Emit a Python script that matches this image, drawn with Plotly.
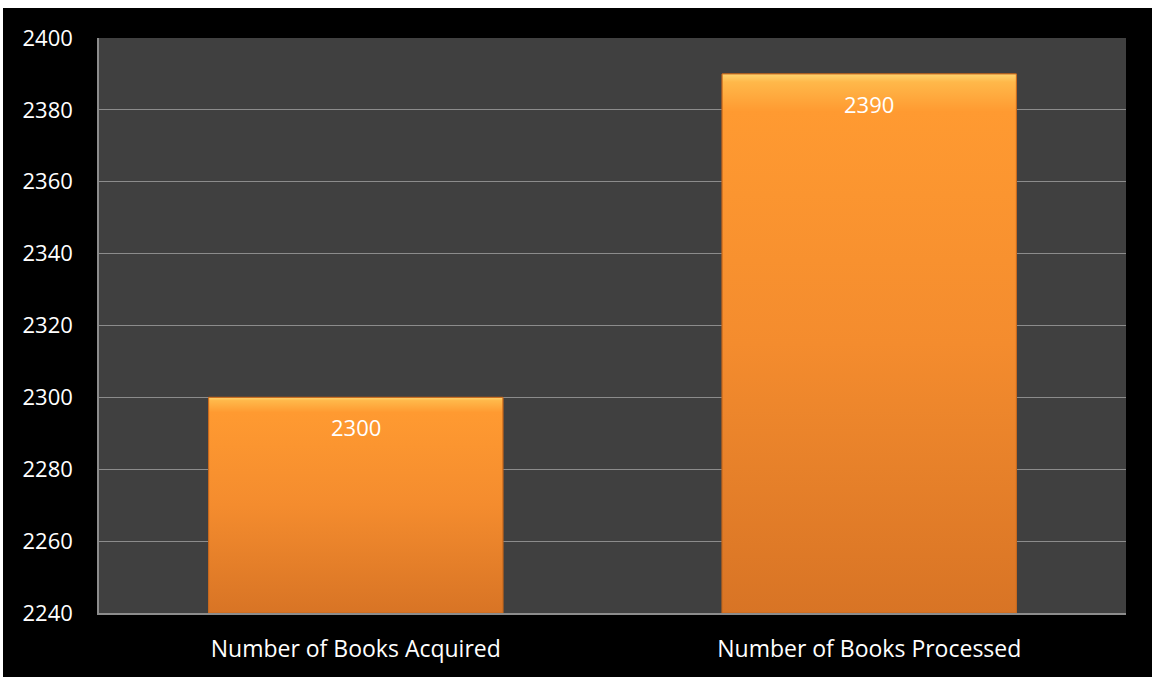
import plotly.graph_objects as go

categories = ["Number of Books Acquired", "Number of Books Processed"]
values = [2300, 2390]
tick_vals = [2240, 2260, 2280, 2300, 2320, 2340, 2360, 2380, 2400]
y_min, y_max = 2240, 2400

# page offsets (white strips of reference: 8px top, 3px left)
OFF_X, OFF_Y = 3, 8
W, H = 1152 - OFF_X, 677 - OFF_Y
L, R, T, B = 96, 26, 30, 64

FONT = "Open Sans"
BAR_W = 0.573
pos = list(range(len(categories)))

fig = go.Figure()
fig.add_trace(go.Bar(
    x=pos, y=values, width=BAR_W,
    marker=dict(color="#F08A2C", line=dict(color="#B9611C", width=1)),
    hoverinfo="skip",
))

# gradient overlay, same geometry as bars
for i, v in zip(pos, values):
    fig.add_trace(go.Scatter(
        x=[i - BAR_W / 2, i + BAR_W / 2, i + BAR_W / 2, i - BAR_W / 2, i - BAR_W / 2],
        y=[y_min, y_min, v, v, y_min],
        mode="lines", fill="toself",
        line=dict(color="#C8691E", width=1),
        fillgradient=dict(type="vertical",
                          colorscale=[[0, "#D87425"], [0.5, "#F48C2E"], [0.93, "#FF9A31"], [0.985, "#FFB84A"], [1, "#FFD570"]]),
        hoverinfo="skip",
    ))

for i, v in zip(pos, values):
    fig.add_annotation(x=i, y=v, text=str(v), showarrow=False, yanchor="top",
                       yshift=-13, font=dict(family=FONT, size=22, color="white"))

fig.update_layout(
    width=W, height=H,
    margin=dict(l=L, r=R, t=T, b=B),
    paper_bgcolor="black",
    plot_bgcolor="#404040",
    showlegend=False,
    font=dict(family=FONT, color="white", size=22),
)
fig.update_yaxes(range=[y_min, y_max], tickvals=tick_vals, showgrid=True,
                 gridcolor="#8C8C8C", gridwidth=1.3, showline=True, linecolor="#8C8C8C",
                 linewidth=1.5, ticks="", ticklabelstandoff=20, zeroline=False,
                 tickfont=dict(family=FONT, size=22, color="white"))
fig.update_xaxes(range=[-0.5, len(categories) - 0.5], tickvals=pos, ticktext=categories,
                 showgrid=False, zeroline=False,
                 showline=True, linecolor="#8C8C8C", linewidth=2, ticks="",
                 ticklabelstandoff=14, tickfont=dict(family=FONT, size=23, color="white"))

fig.write_html("out.html",
               post_script="document.body.style.margin='%dpx 0 0 %dpx';document.body.style.overflow='hidden';" % (OFF_Y, OFF_X))
